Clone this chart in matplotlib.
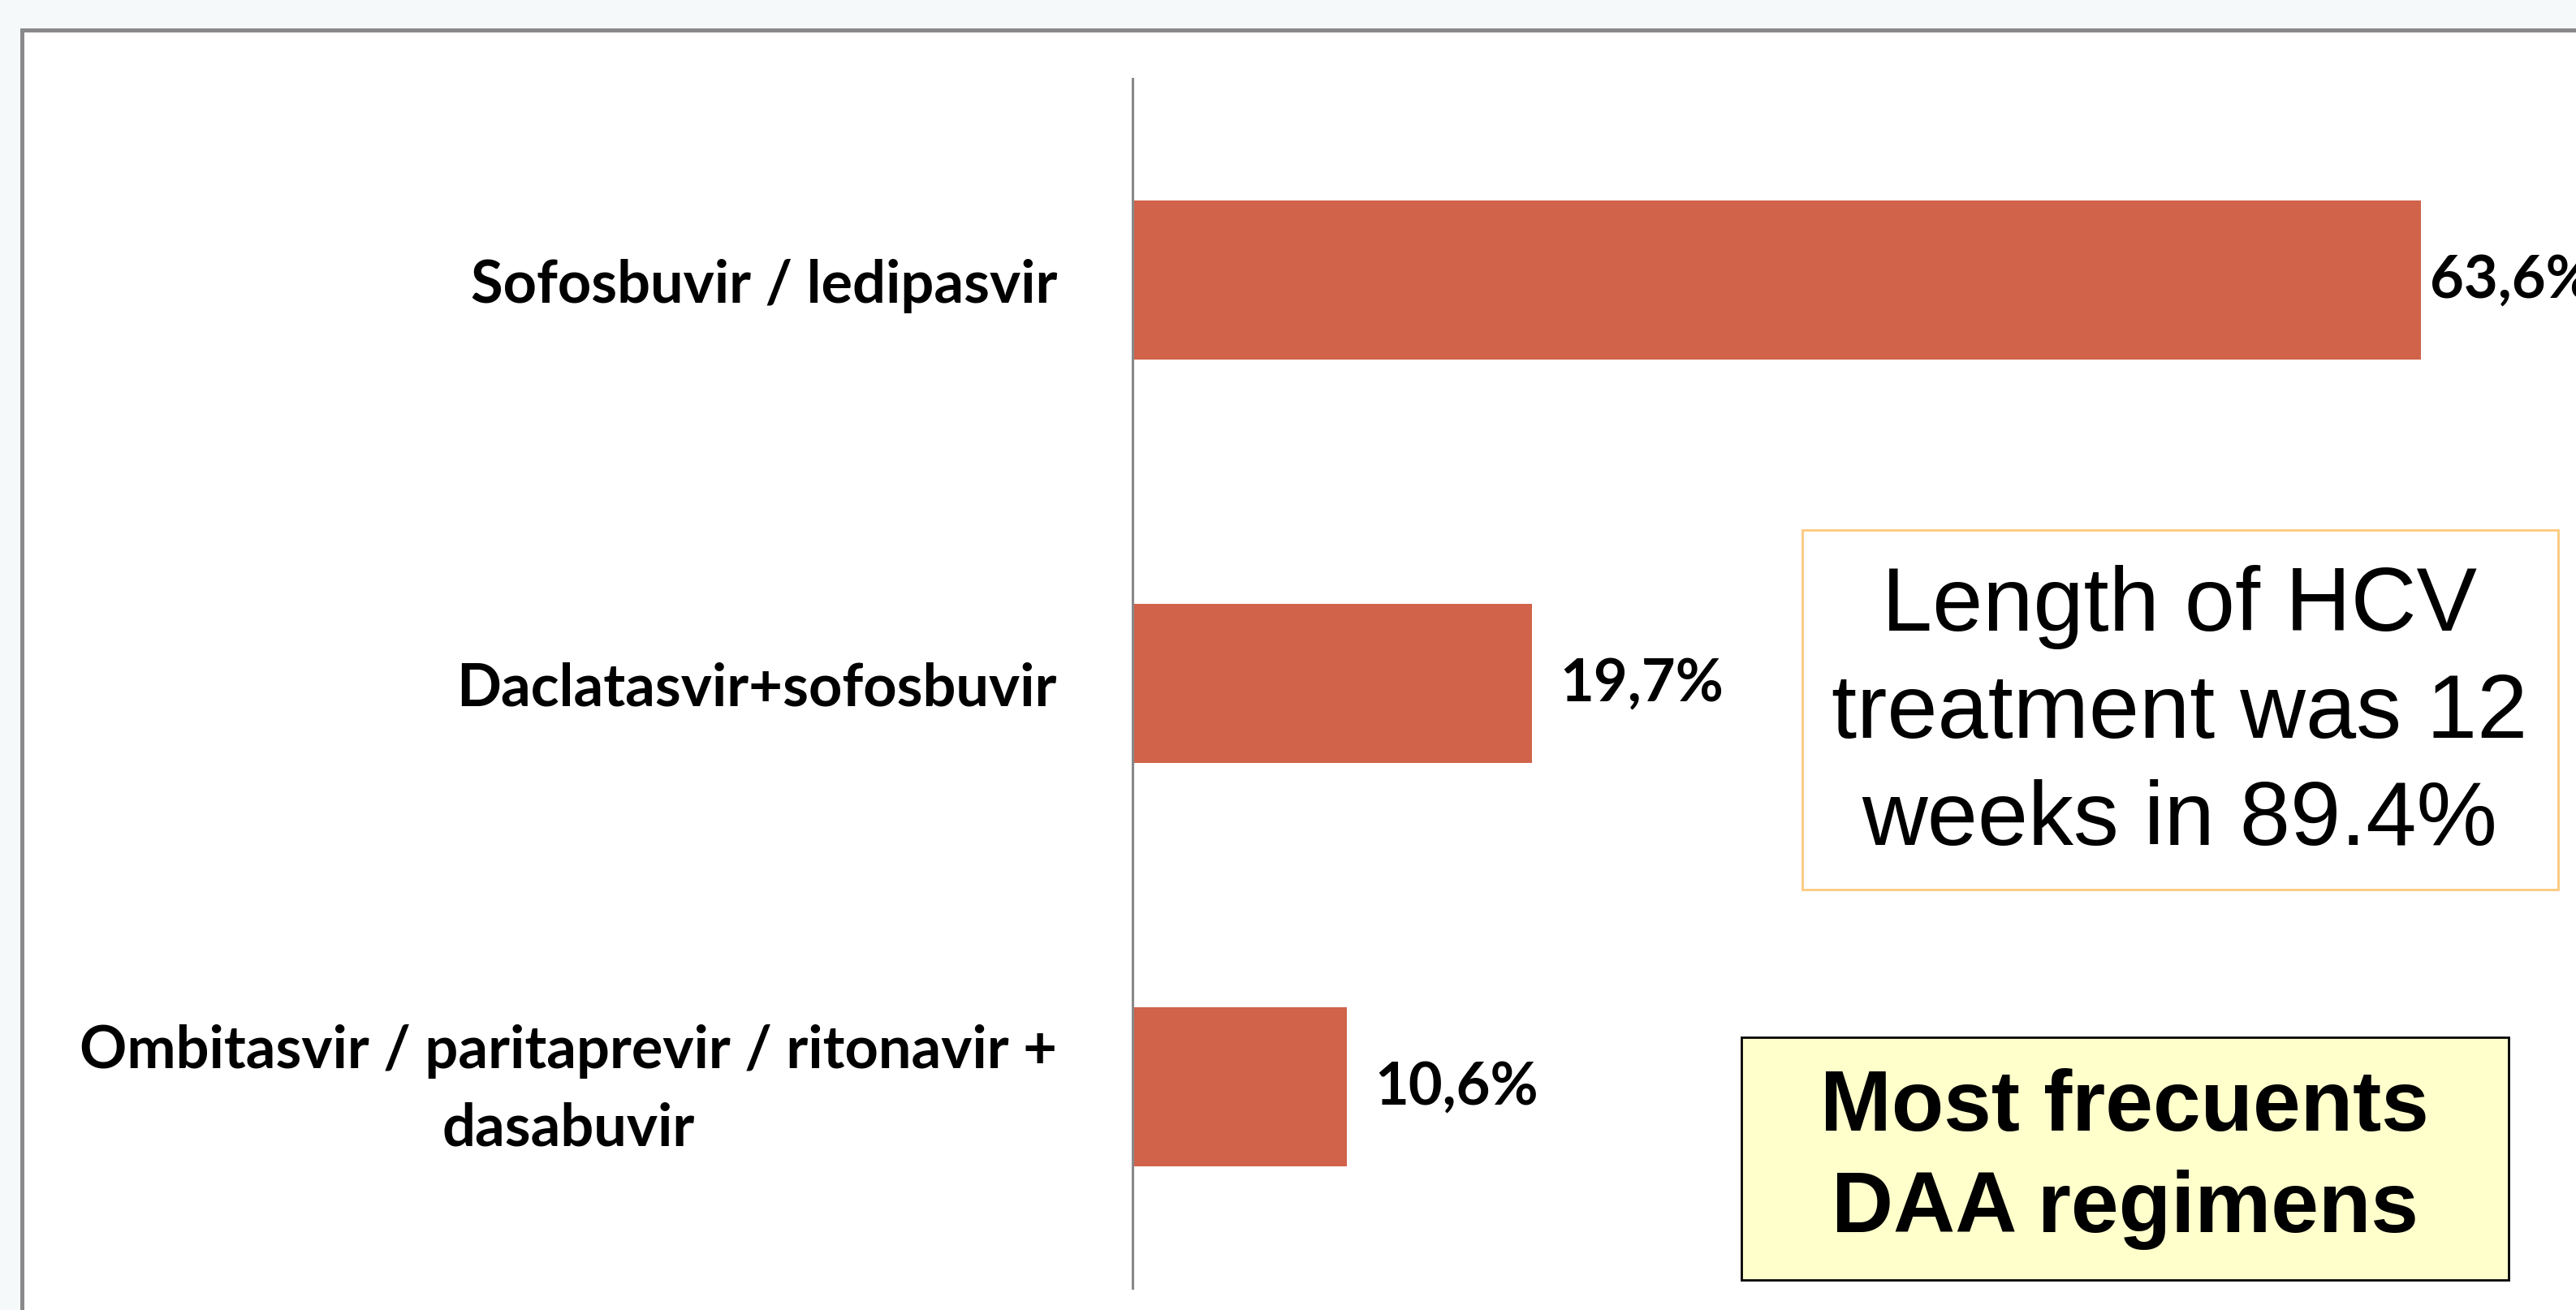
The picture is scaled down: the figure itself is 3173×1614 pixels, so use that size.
import matplotlib.pyplot as plt
from matplotlib.patches import Rectangle
from matplotlib.transforms import ScaledTranslation

# datos del grafico
regimens = ['Sofosbuvir / ledipasvir',
            'Daclatasvir+sofosbuvir',
            'Ombitasvir / paritaprevir / ritonavir +\ndasabuvir']
pct = [63.6, 19.7, 10.6]
pct_labels = ['63,6%', '19,7%', '10,6%']

note_text = 'Length of HCV\ntreatment was 12\nweeks in 89.4%'
title_text = 'Most frecuents\nDAA regimens'

W, H = 3173, 1615
fig = plt.figure(figsize=(W / 100, H / 100), dpi=100)
fig.patch.set_facecolor('#f5f9fa')

# marco blanco de la diapositiva
frame = Rectangle((27 / W, -0.1), 1.2, 1 - 38 / H + 0.1, transform=fig.transFigure,
                  facecolor='white', edgecolor='#8a8a8a', linewidth=3.6, zorder=0)
fig.add_artist(frame)

ax = fig.add_axes([1395 / W, 27 / H, 1 - 1395 / W, (1588 - 98) / H])
ax.set_facecolor('none')
ypos = list(range(len(regimens)))
ax.barh(ypos, pct, height=0.395, color='#d0634a', zorder=2)
ax.set_xlim(0, (W - 1395) / 24.95)
ax.set_ylim(2.5, -0.5)

for s in ['top', 'right', 'bottom']:
    ax.spines[s].set_visible(False)
ax.spines['left'].set_color('#888888')
ax.spines['left'].set_linewidth(2.2)
ax.set_xticks([])
ax.set_yticks(ypos)
ax.set_yticklabels(regimens, fontsize=52, fontweight='bold', family='Lato')
ax.tick_params(axis='y', length=0, pad=67)
for lab in ax.get_yticklabels():
    lab.set_multialignment('center')
    lab.set_linespacing(1.52)

# subir un poco la etiqueta de dos lineas
lab3 = ax.get_yticklabels()[2]
lab3.set_transform(lab3.get_transform() + ScaledTranslation(0, 0.17, fig.dpi_scale_trans))

label_pad = [8, 25, 24]
for i, v in enumerate(pct):
    ax.annotate(pct_labels[i], (v, i), xytext=(label_pad[i], 0), textcoords='offset points',
                va='center', ha='left', fontsize=52, fontweight='bold', family='Lato',
                annotation_clip=False)

# cuadro naranja
fig.add_artist(Rectangle((2220 / W, 1 - 1097 / H), 931 / W, 443 / H, transform=fig.transFigure,
                         facecolor='white', edgecolor='#fcc97c', linewidth=2, zorder=3))
fig.text(2685 / W, 1 - 880 / H, note_text, ha='center', va='center', fontsize=80.5,
         family='Liberation Sans', linespacing=1.35, zorder=4)

# cuadro amarillo
fig.add_artist(Rectangle((2145 / W, 1 - 1578 / H), 945 / W, 299 / H, transform=fig.transFigure,
                         facecolor='#ffffcc', edgecolor='black', linewidth=2, zorder=3))
fig.text(2617 / W, 1 - 1428 / H, title_text, ha='center', va='center', fontsize=76,
         fontweight='bold', family='Liberation Sans', linespacing=1.33, zorder=4)

fig.savefig('out.png', dpi=100, facecolor=fig.get_facecolor())
